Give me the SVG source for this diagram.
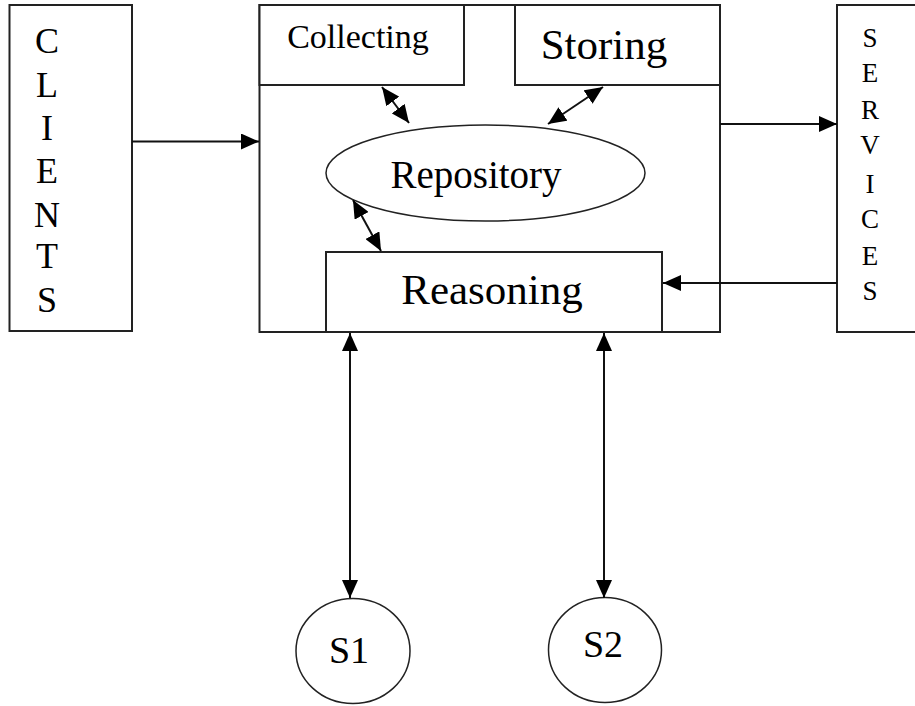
<svg xmlns="http://www.w3.org/2000/svg" width="915" height="706" viewBox="0 0 915 706">
  <style>
    .box { fill: #fff; stroke: #222; stroke-width: 2; }
    .oval { fill: #fff; stroke: #222; stroke-width: 1.5; }
    .lbl { font-family: "Liberation Serif", "Times New Roman", serif; fill: #000; text-anchor: middle; }
    .link { fill: none; stroke: #111; stroke-width: 2; }
  </style>
  <defs>
    <marker id="head" viewBox="0 0 18 16" refX="18" refY="8" markerWidth="18" markerHeight="16" markerUnits="userSpaceOnUse" orient="auto-start-reverse">
      <path d="M0,0 L18,8 L0,16 z" fill="#000"/>
    </marker>
  </defs>

  <rect width="915" height="706" fill="#fff"/>

  <!-- clients column -->
  <g id="clients">
    <rect class="box" x="9.5" y="5" width="122.5" height="326"/>
    <g class="lbl" font-size="36">
      <text x="47" y="53">C</text>
      <text x="47" y="97">L</text>
      <text x="47" y="140">I</text>
      <text x="47" y="183">E</text>
      <text x="47" y="227">N</text>
      <text x="47" y="268">T</text>
      <text x="47" y="312">S</text>
    </g>
  </g>

  <!-- central system box -->
  <g id="system">
    <rect class="box" x="259.5" y="5" width="460.5" height="327"/>
  </g>

  <g id="collecting">
    <rect class="box" x="259.5" y="5" width="204.5" height="80"/>
    <text class="lbl" x="358" y="48" font-size="34">Collecting</text>
  </g>

  <g id="storing">
    <rect class="box" x="515" y="5" width="205" height="80"/>
    <text class="lbl" x="604" y="59" font-size="43">Storing</text>
  </g>

  <g id="repository">
    <ellipse class="oval" cx="485.5" cy="173" rx="159.5" ry="48"/>
    <text class="lbl" x="476" y="188" font-size="39">Repository</text>
  </g>

  <g id="reasoning">
    <rect class="box" x="326" y="252" width="336" height="80"/>
    <text class="lbl" x="492" y="304" font-size="43">Reasoning</text>
  </g>

  <!-- services column -->
  <g id="services">
    <rect class="box" x="837" y="5" width="80" height="327"/>
    <g class="lbl" font-size="27">
      <text x="870" y="47">S</text>
      <text x="870" y="82">E</text>
      <text x="870" y="119">R</text>
      <text x="870" y="154">V</text>
      <text x="870" y="193">I</text>
      <text x="870" y="228">C</text>
      <text x="870" y="265">E</text>
      <text x="870" y="300">S</text>
    </g>
  </g>

  <!-- sensors -->
  <g id="s1">
    <ellipse class="oval" cx="353" cy="651" rx="57" ry="52.5"/>
    <text class="lbl" x="349" y="663" font-size="38">S1</text>
  </g>
  <g id="s2">
    <ellipse class="oval" cx="605" cy="650" rx="56.5" ry="52.5"/>
    <text class="lbl" x="603" y="657" font-size="38">S2</text>
  </g>

  <!-- connectors -->
  <g id="connectors">
    <line class="link" x1="132" y1="141.5" x2="259" y2="141.5" marker-end="url(#head)"/>
    <line class="link" x1="720" y1="124" x2="837" y2="124" marker-end="url(#head)"/>
    <line class="link" x1="837" y1="283" x2="663" y2="283" marker-end="url(#head)"/>
    <line class="link" x1="382" y1="87" x2="409" y2="123" marker-start="url(#head)" marker-end="url(#head)"/>
    <line class="link" x1="603" y1="87" x2="548" y2="124" marker-start="url(#head)" marker-end="url(#head)"/>
    <line class="link" x1="353" y1="200" x2="381" y2="251" marker-start="url(#head)" marker-end="url(#head)"/>
    <line class="link" x1="350" y1="333" x2="350" y2="598" marker-start="url(#head)" marker-end="url(#head)"/>
    <line class="link" x1="604" y1="333" x2="604" y2="598" marker-start="url(#head)" marker-end="url(#head)"/>
  </g>
</svg>
